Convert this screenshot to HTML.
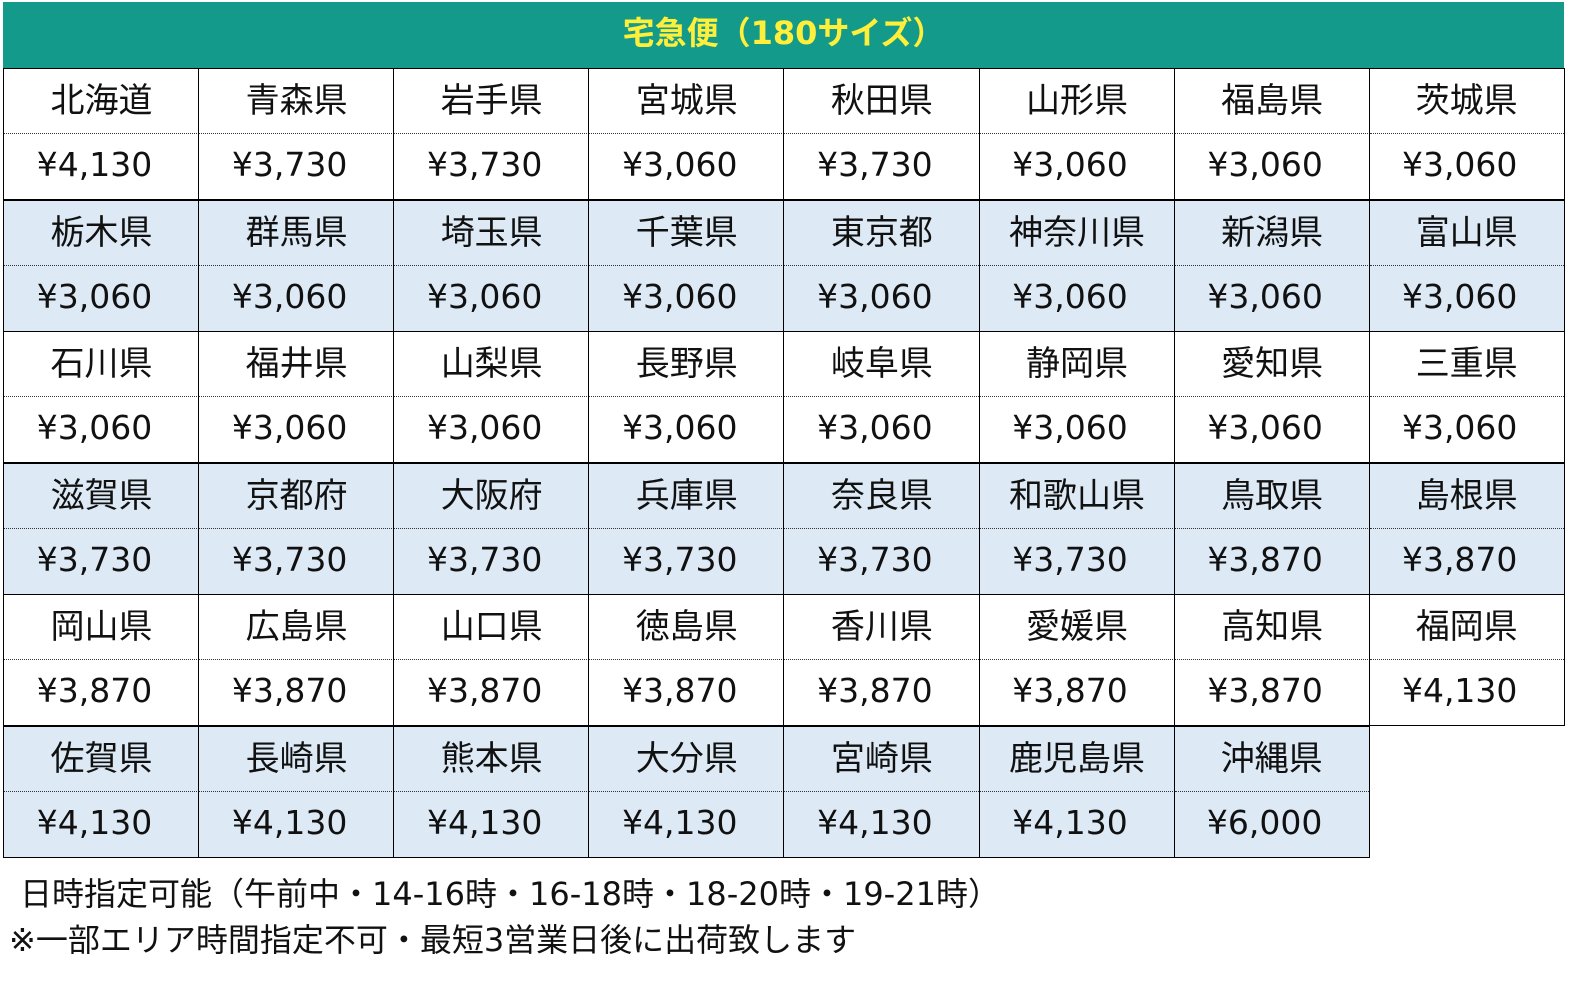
<!DOCTYPE html><html><head><meta charset="utf-8"><style>
body{margin:0;width:1575px;height:1002px;background:#fff;position:relative;overflow:hidden;font-family:"DejaVu Sans","Noto Sans CJK JP",sans-serif;}
.h{position:absolute;left:3px;top:2px;width:1561px;height:66px;background:#149a8a;color:#ffef3a;font-weight:bold;font-size:32px;line-height:62px;text-align:center}
.c{position:absolute;width:196px;box-sizing:border-box;border-left:1.5px solid #000;text-align:center;font-size:34px;color:#111;}
.n{font-family:"Noto Sans CJK JP",sans-serif;}
.p{font-family:"DejaVu Sans",sans-serif;font-size:33px}
.t{position:absolute;left:0;font-size:32px;line-height:40px;color:#111;white-space:nowrap}
</style></head><body>
<div class="h">宅急便（180サイズ）</div>
<div id="g"></div>
<div class="t" style="left:20px;top:874px">日時指定可能（午前中・14-16時・16-18時・18-20時・19-21時）</div>
<div class="t" style="left:9px;top:920px">※一部エリア時間指定不可・最短3営業日後に出荷致します</div>
<script>
var d=[["北海道","¥4,130"],["青森県","¥3,730"],["岩手県","¥3,730"],["宮城県","¥3,060"],["秋田県","¥3,730"],["山形県","¥3,060"],["福島県","¥3,060"],["茨城県","¥3,060"],
["栃木県","¥3,060"],["群馬県","¥3,060"],["埼玉県","¥3,060"],["千葉県","¥3,060"],["東京都","¥3,060"],["神奈川県","¥3,060"],["新潟県","¥3,060"],["富山県","¥3,060"],
["石川県","¥3,060"],["福井県","¥3,060"],["山梨県","¥3,060"],["長野県","¥3,060"],["岐阜県","¥3,060"],["静岡県","¥3,060"],["愛知県","¥3,060"],["三重県","¥3,060"],
["滋賀県","¥3,730"],["京都府","¥3,730"],["大阪府","¥3,730"],["兵庫県","¥3,730"],["奈良県","¥3,730"],["和歌山県","¥3,730"],["鳥取県","¥3,870"],["島根県","¥3,870"],
["岡山県","¥3,870"],["広島県","¥3,870"],["山口県","¥3,870"],["徳島県","¥3,870"],["香川県","¥3,870"],["愛媛県","¥3,870"],["高知県","¥3,870"],["福岡県","¥4,130"],
["佐賀県","¥4,130"],["長崎県","¥4,130"],["熊本県","¥4,130"],["大分県","¥4,130"],["宮崎県","¥4,130"],["鹿児島県","¥4,130"],["沖縄県","¥6,000"]];
var h="";
for(var i=0;i<d.length;i++){var r=Math.floor(i/8),c=i%8;var x=3+c*195.1,y=68+r*131.6;var bg=r%2?"#ddeaf6":"#fff";
var right=(c==7||i==d.length-1)?"border-right:1.5px solid #000;":"";
h+='<div class="c" style="left:'+x+'px;top:'+y+'px;height:132px;background:'+bg+';border-top:1.5px solid #000;border-bottom:1.5px solid #000;'+right+'">'+
'<div class="n" style="height:64px;line-height:58px;border-bottom:1.5px dotted #333">'+d[i][0]+'</div>'+
'<div class="p" style="height:64px;line-height:62px;padding-right:14px">'+d[i][1]+'</div></div>';}
document.getElementById("g").innerHTML=h;
</script></body></html>
